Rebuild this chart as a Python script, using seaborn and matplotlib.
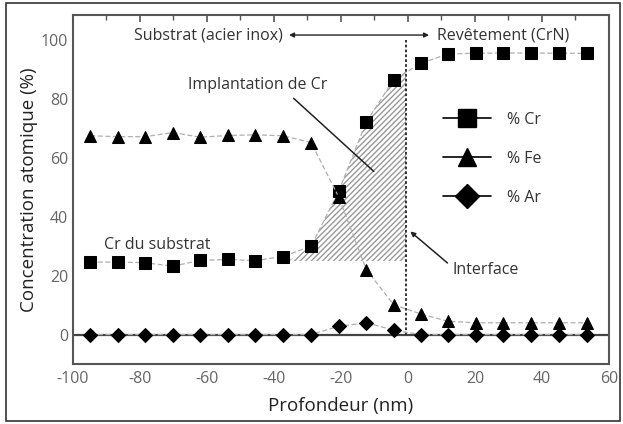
import numpy as np
import pandas as pd
import seaborn as sns
import matplotlib
matplotlib.use("Agg")
import matplotlib.pyplot as plt
from matplotlib.lines import Line2D
from matplotlib.patches import Rectangle
from matplotlib.ticker import MultipleLocator

# ---- data ----
depth = [-94.8, -86.6, -78.4, -70.1, -62.0, -53.7, -45.6, -37.3, -28.9, -20.7,
         -12.4, -4.3, 3.8, 12.0, 20.2, 28.4, 36.7, 45.0, 53.3]
cr = [24.6, 24.6, 24.4, 23.2, 25.2, 25.5, 25.1, 26.5, 30.0, 48.6,
      72.3, 86.4, 92.1, 95.3, 95.5, 95.6, 95.6, 95.5, 95.5]
fe = [67.5, 67.2, 67.2, 68.6, 67.0, 67.6, 67.8, 67.5, 65.2, 46.8,
      22.0, 10.2, 7.0, 4.5, 4.0, 4.0, 4.0, 4.0, 4.0]
ar = [0.0, 0.0, 0.0, 0.0, 0.0, 0.0, 0.0, 0.0, 0.0, 2.8,
      4.0, 1.5, 0.0, 0.0, 0.0, 0.0, 0.0, 0.0, 0.0]
series_names = ["% Cr", "% Fe", "% Ar"]
xticks = [-100, -80, -60, -40, -20, 0, 20, 40, 60]
yticks = [0, 20, 40, 60, 80, 100]

# hatched implantation region (annotation)
hatch_x = [-35.7, -28.9, -20.7, -12.4, -4.3, -0.6]
hatch_top = [25.0, 30.0, 48.6, 72.3, 86.4, 89.5]
hatch_base = 25.0
interface_x = -0.6

df = pd.DataFrame({"depth": depth, "cr": cr, "fe": fe, "ar": ar})

sns.set_style("white")
plt.rcParams["font.family"] = ["Open Sans", "DejaVu Sans"]
plt.rcParams["axes.unicode_minus"] = False

fig = plt.figure(figsize=(6.23, 4.24), dpi=100)
ax = fig.add_axes([0.117, 0.1415, 0.8605, 0.8231])

# zero line
ax.axhline(0, color="#444444", lw=1.6, zorder=1)

# hatched region
ax.fill_between(hatch_x, hatch_base, hatch_top, facecolor="none",
                edgecolor="#999999", hatch="//////", linewidth=0, zorder=1)

line_kw = dict(color="#b0b0b0", lw=0.9, linestyle=(0, (4, 2)),
               markerfacecolor="black", markeredgecolor="black", zorder=3)
sns.lineplot(data=df, x="depth", y="cr", marker="s", markersize=8, ax=ax, **line_kw)
sns.lineplot(data=df, x="depth", y="fe", marker="^", markersize=9, ax=ax, **line_kw)
sns.lineplot(data=df, x="depth", y="ar", marker="D", markersize=7, ax=ax, **line_kw)

# interface dashed line
ax.plot([interface_x, interface_x], [0, 100], color="#222222", lw=1.3,
        linestyle=(0, (1.5, 1.2)), zorder=2)

ax.set_xlim(-100, 60)
ax.set_ylim(-10, 108.5)
ax.set_xticks(xticks)
ax.set_yticks(yticks)
ax.xaxis.set_minor_locator(MultipleLocator(10))
ax.yaxis.set_minor_locator(MultipleLocator(5))
ax.tick_params(axis="both", which="both", direction="in", colors="#555555",
               labelcolor="#666666", labelsize=11.5, top=True, right=False)
ax.tick_params(axis="x", which="major", pad=5)
ax.tick_params(which="major", length=5, width=1.2)
ax.tick_params(which="minor", length=3.5, width=1.0)
for s in ax.spines.values():
    s.set_color("#555555")
    s.set_linewidth(1.5)

ax.set_xlabel("Profondeur (nm)", fontsize=13.5, color="#222222", labelpad=7)
ax.set_ylabel("Concentration atomique (%)", fontsize=13.5, color="#222222", labelpad=2)

tc = "#333333"
fs = 11.5
# annotations
ax.text(-59.6, 101.7, "Substrat (acier inox)", ha="center", va="center", fontsize=fs, color=tc)
ax.text(8.8, 101.7, "Revêtement (CrN)", ha="left", va="center", fontsize=fs, color=tc)
ax.annotate("", xy=(-35.5, 101.7), xytext=(6.3, 101.7),
            arrowprops=dict(arrowstyle="<|-|>", color="#222222", lw=1.0,
                            mutation_scale=7, shrinkA=0, shrinkB=0))
ax.text(-44.7, 84.7, "Implantation de Cr", ha="center", va="center", fontsize=fs, color=tc)
ax.plot([-34.1, -10.2], [80.2, 55.4], color="#222222", lw=1.1, zorder=4)
ax.text(-90.8, 30.5, "Cr du substrat", ha="left", va="center", fontsize=fs, color=tc)
ax.text(13.2, 21.8, "Interface", ha="left", va="center", fontsize=fs, color=tc)
ax.annotate("", xy=(0.7, 35.0), xytext=(11.8, 24.3),
            arrowprops=dict(arrowstyle="-|>", color="#222222", lw=1.1,
                            mutation_scale=7, shrinkA=0, shrinkB=0))

# legend
handles = [Line2D([], [], color="black", lw=1.2, marker=m, markersize=ms,
                  markerfacecolor="black", markeredgecolor="black")
           for m, ms in zip(["s", "^", "D"], [13, 13, 12])]
ax.legend(handles, series_names, loc="upper left", bbox_to_anchor=(0.675, 0.746),
          frameon=False, fontsize=11.5, handlelength=3.0, handletextpad=1.0,
          labelspacing=1.45, borderpad=0, labelcolor="#333333")

# figure border
fig.patches.append(Rectangle((6 / 623, 3 / 424), 614 / 623, 418 / 424,
                             transform=fig.transFigure, fill=False,
                             edgecolor="#333333", lw=1.2))

fig.savefig("out.png", dpi=100)
